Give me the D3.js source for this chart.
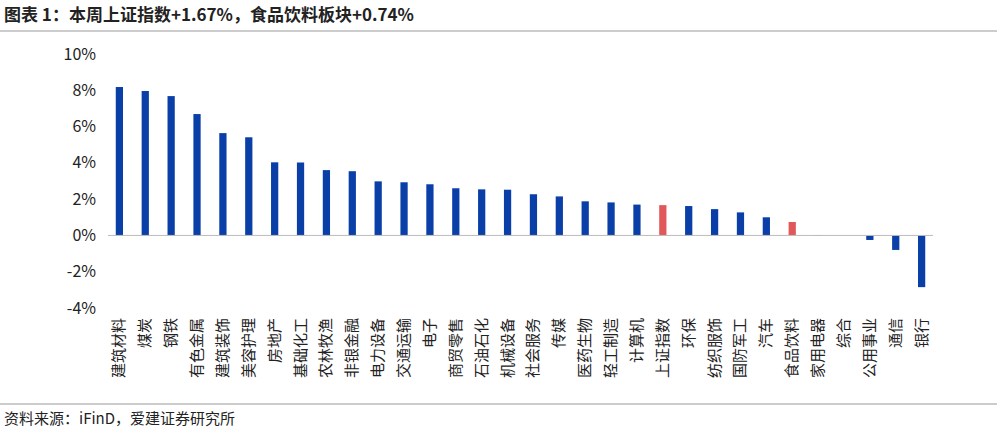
<!DOCTYPE html>
<html><head><meta charset="utf-8">
<script src="https://cdn.jsdelivr.net/npm/d3@7"></script>
<style>body{margin:0;background:#fff;font-family:"Noto Sans CJK SC","Noto Sans",sans-serif}</style>
</head><body>
<div id="chart"></div>
<script>
const categories = ["建筑材料","煤炭","钢铁","有色金属","建筑装饰","美容护理","房地产","基础化工","农林牧渔","非银金融","电力设备","交通运输","电子","商贸零售","石油石化","机械设备","社会服务","传媒","医药生物","轻工制造","计算机","上证指数","环保","纺织服饰","国防军工","汽车","食品饮料","家用电器","综合","公用事业","通信","银行"];
const values = [8.18,7.96,7.68,6.69,5.64,5.41,4.03,4.02,3.6,3.54,2.98,2.93,2.82,2.6,2.54,2.52,2.27,2.15,1.88,1.82,1.7,1.67,1.62,1.45,1.27,1.0,0.74,0.02,0,-0.25,-0.8,-2.85];
const highlight = ["上证指数","食品饮料"];
const yTicks = [-4,-2,0,2,4,6,8,10];

const width = 997, height = 433;
const svg = d3.select("#chart").append("svg").attr("width", width).attr("height", height);

svg.append("text").attr("x", 4).attr("y", 21).attr("font-size", 17).attr("font-weight", "bold")
  .attr("fill", "#222").text("图表 1：本周上证指数+1.67%，食品饮料板块+0.74%");
svg.append("line").attr("x1", 0).attr("x2", width).attr("y1", 31).attr("y2", 31).attr("stroke", "#999");
svg.append("line").attr("x1", 0).attr("x2", width).attr("y1", 404).attr("y2", 404).attr("stroke", "#999");
svg.append("text").attr("x", 4).attr("y", 424).attr("font-size", 15).attr("fill", "#222").text("资料来源：iFinD，爱建证券研究所");

const x = d3.scaleBand().domain(categories).range([108, 933]).paddingInner(0.72).paddingOuter(0.3);
const y = d3.scaleLinear().domain([-4, 10]).range([308, 54]);

svg.append("g").attr("transform", "translate(100,0)")
  .call(d3.axisLeft(y).tickValues(yTicks).tickFormat(d => d + "%").tickSize(0).tickPadding(4))
  .call(g => g.select(".domain").remove())
  .selectAll("text").attr("font-size", 16).attr("fill", "#222").attr("font-family", "Noto Sans CJK SC");

svg.append("g").selectAll("rect").data(categories).enter().append("rect")
  .attr("x", d => x(d))
  .attr("width", x.bandwidth())
  .attr("y", (d, i) => y(Math.max(0, values[i])))
  .attr("height", (d, i) => Math.abs(y(values[i]) - y(0)))
  .attr("fill", d => highlight.includes(d) ? "#e0585a" : "#0b3fa8");

svg.append("line").attr("x1", 108).attr("x2", 933).attr("y1", y(0)).attr("y2", y(0)).attr("stroke", "#bbb");

svg.append("g").selectAll("text").data(categories).enter().append("text")
  .attr("transform", d => `translate(${x(d) + x.bandwidth() / 2 + 5},318) rotate(-90)`)
  .attr("text-anchor", "end").attr("font-size", 15).attr("fill", "#222").text(d => d);
</script>
</body></html>
